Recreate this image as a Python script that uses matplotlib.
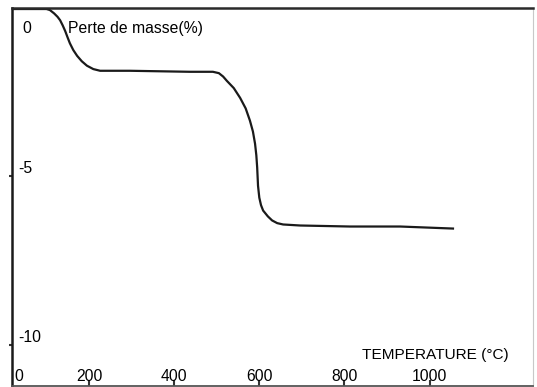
import matplotlib.pyplot as plt

plt.rcParams["font.family"] = ["Liberation Sans", "DejaVu Sans"]

# courbe ATG
temperature = [19, 100, 108, 118, 126, 132, 138, 144, 150, 155, 163, 172,
               183, 195, 210, 226, 296, 437, 491, 505, 515, 524, 540, 555,
               568, 578, 585, 590, 593, 595, 597, 600, 604, 609, 620, 630,
               642, 656, 696, 813, 931, 1055]
perte_masse = [-0.09, -0.09, -0.12, -0.22, -0.32, -0.42, -0.57, -0.74,
               -0.94, -1.1, -1.3, -1.47, -1.63, -1.76, -1.86, -1.91, -1.91,
               -1.94, -1.94, -1.98, -2.08, -2.21, -2.42, -2.71, -3.02, -3.38,
               -3.7, -4.06, -4.4, -4.76, -5.3, -5.65, -5.87, -6.03, -6.2,
               -6.32, -6.4, -6.44, -6.47, -6.5, -6.5, -6.56]

x_ticks = [200, 400, 600, 800, 1000]
y_ticks = [-5, -10]

fig = plt.figure(figsize=(5.37, 3.87), dpi=100)
ax = fig.add_axes([12 / 537, 1 / 387, 521 / 537, 378 / 387])

ax.plot(temperature, perte_masse, color="#1a1a1a", lw=1.6)

ax.set_xlim(19, 1243)
ax.set_ylim(-11.2, -0.06)

ax.set_xticks(x_ticks, labels=[str(t) for t in x_ticks], fontsize=11.3)
ax.set_yticks(y_ticks, labels=[str(v) for v in y_ticks], fontsize=11.3,
              ha="left", va="bottom")
ax.tick_params(axis="x", direction="in", length=4, width=1.5,
               color="#333333", pad=-12.5)
ax.tick_params(axis="y", direction="out", length=2.5, width=1.5,
               color="#333333", pad=-7)

ax.spines["top"].set_linewidth(1.8)
ax.spines["top"].set_color("#2a2a2a")
ax.spines["left"].set_linewidth(1.8)
ax.spines["left"].set_color("#1a1a1a")
ax.spines["bottom"].set_linewidth(1.3)
ax.spines["bottom"].set_color("#555555")
ax.spines["right"].set_linewidth(0.8)
ax.spines["right"].set_color("#c8c8c8")

# origines des deux axes
ax.text(0.004, 0.024, "0", transform=ax.transAxes, fontsize=11.3,
        ha="left", va="center")
ax.text(0.019, 0.945, "0", transform=ax.transAxes, fontsize=11.3,
        ha="left", va="center")

ax.text(0.107, 0.945, "Perte de masse(%)", transform=ax.transAxes,
        fontsize=11.3, ha="left", va="center")
ax.text(0.672, 0.083, "TEMPERATURE (°C)", transform=ax.transAxes,
        fontsize=11.1, ha="left", va="center")

fig.savefig("out.png", dpi=100)
plt.close(fig)
